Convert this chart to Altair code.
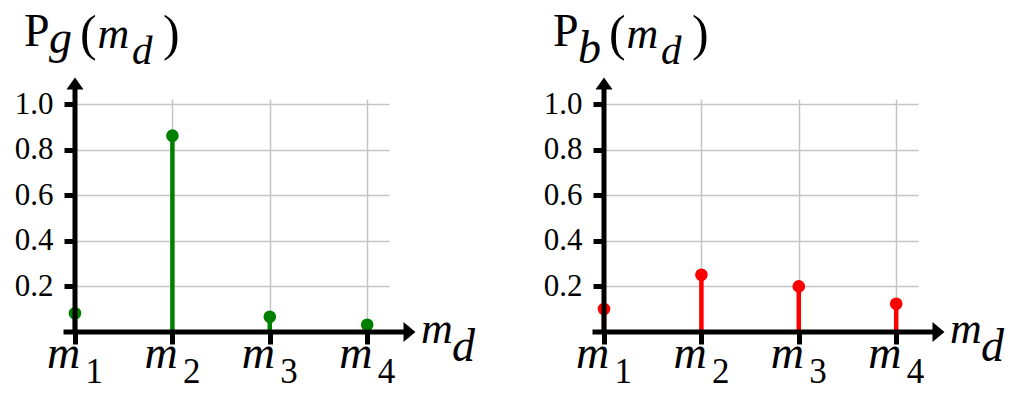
import altair as alt
import pandas as pd

# ---- data -------------------------------------------------------------
categories = ["m1", "m2", "m3", "m4"]
positions = [1, 2, 3, 4]
subscripts = ["1", "2", "3", "4"]
pg_values = [0.082, 0.861, 0.067, 0.032]
pb_values = [0.101, 0.251, 0.200, 0.124]
y_ticks = [0.2, 0.4, 0.6, 0.8, 1.0]

# ---- geometry / style ------------------------------------------------
W = 314
H = 233
XDOM = [1, 1 + W / 97.4]
YDOM = [0, H / 228.0]
SERIF = "Liberation Serif"
GRID = "#c4c4c4"
AXW = 5


def txt(text, x, y, size, italic=False):
    return alt.Chart(alt.Data(values=[{}])).mark_text(
        text=text, font=SERIF, fontSize=size, align="left", baseline="alphabetic",
        fontStyle="italic" if italic else "normal", color="black",
    ).encode(x=alt.value(x), y=alt.value(y))


def panel(values, color, sub_letter, sub_y):
    df = pd.DataFrame({"pos": positions, "value": values, "cat": categories, "sub": subscripts})
    base = alt.Chart(df)
    x_enc = alt.X(
        "pos:Q",
        scale=alt.Scale(domain=XDOM, nice=False, zero=False),
        axis=alt.Axis(values=positions, labels=False, domain=False, ticks=True, tickSize=12,
                      tickWidth=AXW, tickColor="black", grid=True, gridColor=GRID,
                      gridWidth=1.5, title=None),
    )
    y_enc = alt.Y(
        "value:Q",
        scale=alt.Scale(domain=YDOM, nice=False, zero=True),
        axis=alt.Axis(values=y_ticks, format=".1f", labelFont=SERIF, labelFontSize=31,
                      labelColor="black", labelPadding=11, tickSize=11, tickWidth=AXW,
                      tickColor="black", domain=False, grid=True, gridColor=GRID,
                      gridWidth=1.5, title=None),
    )
    stems = base.mark_rule(color=color, strokeWidth=4.5).encode(x=x_enc, y=y_enc, y2=alt.datum(0))
    dots = base.mark_circle(color=color, size=160, opacity=1).encode(x=x_enc, y=y_enc)

    one = alt.Chart(alt.Data(values=[{}]))
    xaxis = one.mark_rule(color="black", strokeWidth=AXW).encode(
        x=alt.value(-11.5), x2=alt.value(333), y=alt.value(H))
    yaxis = one.mark_rule(color="black", strokeWidth=AXW).encode(
        x=alt.value(0), y=alt.value(-14), y2=alt.value(H))
    xarrow = one.mark_point(
        shape="M-1,-1.67L1,0L-1,1.67Z", filled=True, fill="black", strokeWidth=0,
        size=144, opacity=1).encode(x=alt.value(334.5), y=alt.value(H))
    yarrow = one.mark_point(
        shape="M-1.42,1L0,-1L1.42,1Z", filled=True, fill="black", strokeWidth=0,
        size=144, opacity=1).encode(x=alt.value(0), y=alt.value(-15.4))

    # invisible (white) anchors that fix the panel's layout bounds
    anchors = one.mark_rule(color="white", strokeWidth=1).encode(
        x=alt.value(-66.5), x2=alt.value(405), y=alt.value(-90.4))

    mlabels = base.mark_text(text="m", font=SERIF, fontStyle="italic", fontSize=46,
                             align="left", baseline="alphabetic", dx=-28, color="black").encode(
        x=x_enc, y=alt.value(268.6))
    sublabels = base.mark_text(font=SERIF, fontSize=35, align="left", baseline="alphabetic",
                               dx=10.5, color="black").encode(
        x=x_enc, y=alt.value(283.6), text="sub:N")

    # axis name m_d
    xname = txt("m", 346, 243.6, 44, True) + txt("d", 377, 261.6, 46, True)
    # title P_g(m_d)
    title = (
        txt("P", -51, -53.4, 46)
        + txt(sub_letter, -26, sub_y, 46, True)
        + txt("(", 5, -49, 50)
        + txt("m", 22.5, -51.4, 44, True)
        + txt("d", 57, -35.4, 41, True)
        + txt(")", 88, -49, 50)
    )
    return alt.layer(anchors, stems, dots, xaxis, yaxis, xarrow, yarrow, mlabels, sublabels,
                     xname, title).properties(width=W, height=H)


left = panel(pg_values, "#008000", "g", -46.4)
right = panel(pb_values, "#ff0000", "b", -36)

chart = alt.hconcat(left, right, spacing=56).properties(
    padding={"left": 0, "top": 0, "right": 0, "bottom": 0}
).configure_view(stroke=None)

chart.save("out.html", embed_options={"renderer": "svg", "actions": False})
